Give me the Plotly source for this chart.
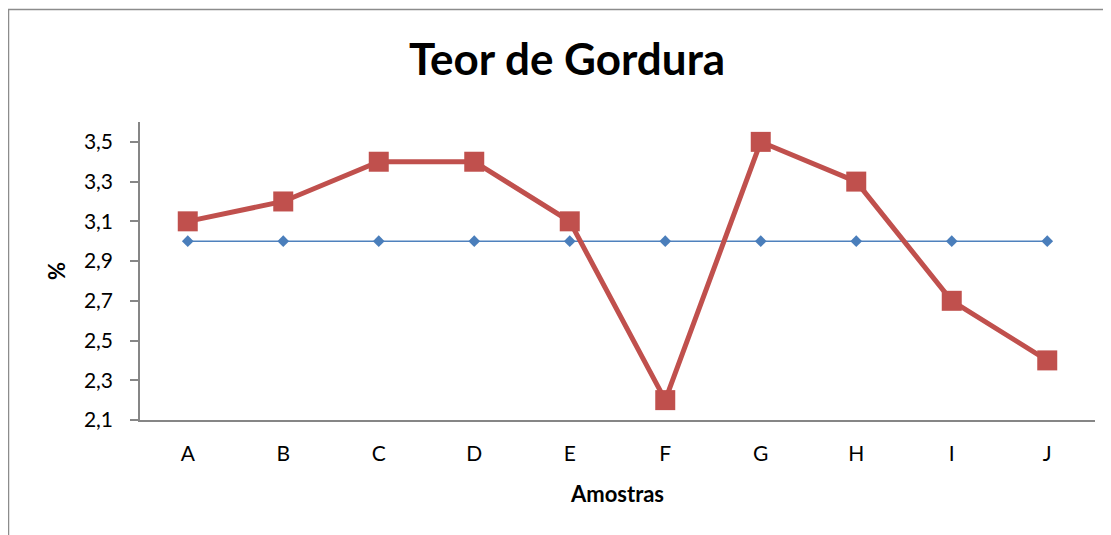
import plotly.graph_objects as go

categories = ["A", "B", "C", "D", "E", "F", "G", "H", "I", "J"]
amostras = [3.1, 3.2, 3.4, 3.4, 3.1, 2.2, 3.5, 3.3, 2.7, 2.4]
referencia = [3.0] * 10
tick_vals = [2.1, 2.3, 2.5, 2.7, 2.9, 3.1, 3.3, 3.5]

FONT = "Lato"

fig = go.Figure()
fig.add_trace(go.Scatter(
    x=categories, y=referencia, mode="lines+markers",
    line=dict(color="#4F81BD", width=1.5),
    marker=dict(symbol="diamond", size=9, color="#4A7EBB"),
    showlegend=False,
))
fig.add_trace(go.Scatter(
    x=categories, y=amostras, mode="lines+markers",
    line=dict(color="#C0504D", width=5),
    marker=dict(symbol="square", size=20, color="#C0504D"),
    showlegend=False,
))

# page body has an 8px margin, so figure coords = screen coords - 8
W, H = 1103, 527
L, T = 132, 114
PR, PB = 1087, 412
R, B = W - PR, H - PB
pw = PR - L
ph = PB - T

def px_x(x):
    return (x - L) / pw

def px_y(y):
    return (PB - y) / ph

fig.add_shape(type="rect", xref="paper", yref="paper",
              x0=px_x(0.5), x1=px_x(1120), y0=px_y(545), y1=px_y(1.5),
              line=dict(color="#8C8C8C", width=1.5), fillcolor="rgba(0,0,0,0)",
              layer="below")

fig.update_layout(
    width=W, height=H,
    margin=dict(l=L, r=R, t=T, b=B),
    paper_bgcolor="white", plot_bgcolor="white",
    separators=",.",
    font=dict(family=FONT, color="#000000", size=21),
    title=dict(text="<b>Teor de Gordura</b>", x=559 / W, xanchor="center",
               y=1 - 52 / H, yanchor="middle", font=dict(size=44, family=FONT)),
    xaxis=dict(
        type="category", showgrid=False, zeroline=False,
        showline=True, linecolor="#868686", linewidth=1.5,
        ticks="", tickfont=dict(size=21), ticklabelstandoff=14,
        title=dict(text="<b>Amostras</b>", font=dict(size=22), standoff=23),
        range=[-0.5, 9.5],
    ),
    yaxis=dict(
        range=[2.1, 3.6], tickvals=tick_vals, tickformat=".1f",
        showgrid=False, zeroline=False,
        showline=True, linecolor="#868686", linewidth=1.5,
        ticks="outside", ticklen=8, tickcolor="#868686", tickwidth=1.5,
        tickfont=dict(size=21), ticklabelstandoff=13,
        title=dict(text="<b>%</b>", font=dict(size=22), standoff=12),
    ),
)

fig.write_html("out.html")
